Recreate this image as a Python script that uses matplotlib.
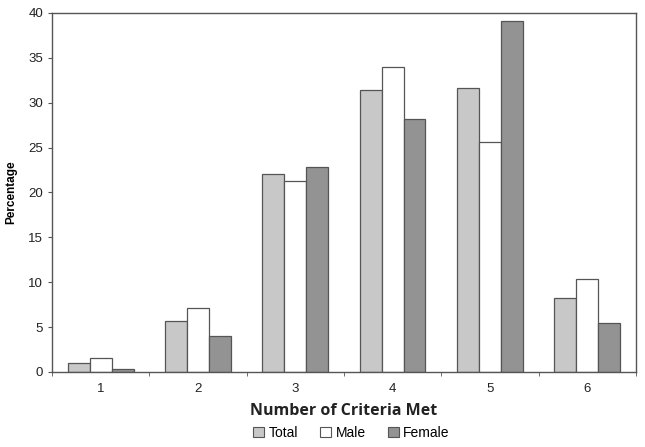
import matplotlib
matplotlib.use("Agg")
import matplotlib.pyplot as plt
import numpy as np
from matplotlib.patches import Patch

categories = ["1", "2", "3", "4", "5", "6"]
total = [1.0, 5.7, 22.0, 31.4, 31.6, 8.2]
male = [1.5, 7.1, 21.3, 34.0, 25.6, 10.4]
female = [0.3, 4.0, 22.8, 28.2, 39.1, 5.5]
series_names = ["Total", "Male", "Female"]
colors = ["#c8c8c8", "#ffffff", "#939393"]

plt.rcParams['font.family'] = ['Liberation Sans', 'DejaVu Sans']

fig = plt.figure(figsize=(6.45, 4.47), dpi=100)
ax = fig.add_axes([0.0806, 0.168, 0.9054, 0.803])

x = np.arange(len(categories))
w = 0.225
edge = "#555555"
for i, (vals, c) in enumerate(zip([total, male, female], colors)):
    ax.bar(x + (i - 1) * w, vals, w, color=c, edgecolor=edge, linewidth=0.9, zorder=2)

ax.set_xlim(-0.5, len(categories) - 0.5)
ax.set_ylim(0, 40)
ax.set_yticks(np.arange(0, 41, 5))
ax.set_xticks(x)
ax.set_xticklabels(categories)
ax.set_xticks(np.arange(-0.5, len(categories), 1), minor=True)
ax.tick_params(axis='x', which='major', length=0, labelsize=9.5, pad=8, colors="#222222")
ax.tick_params(axis='x', which='minor', length=3, direction='out', color="#555555")
ax.tick_params(axis='y', length=3, direction='out', labelsize=9.5, color="#555555", labelcolor="#222222")
for s in ax.spines.values():
    s.set_color("#555555")
    s.set_linewidth(1.0)

ax.set_ylabel("Percentage", fontsize=8.5, fontweight='bold', labelpad=8)
ax.set_xlabel("Number of Criteria Met", fontsize=11.5, fontweight='bold',
              family=['Open Sans', 'DejaVu Sans'], labelpad=6, color="#222222")

handles = [Patch(facecolor=c, edgecolor=edge, linewidth=0.8) for c in colors]
fig.legend(handles, series_names, loc='center', bbox_to_anchor=(0.545, 0.032),
           ncol=3, frameon=False, fontsize=10, handlelength=0.8, handleheight=0.8,
           handletextpad=0.3, columnspacing=1.6)

fig.savefig("out.png", dpi=100)
